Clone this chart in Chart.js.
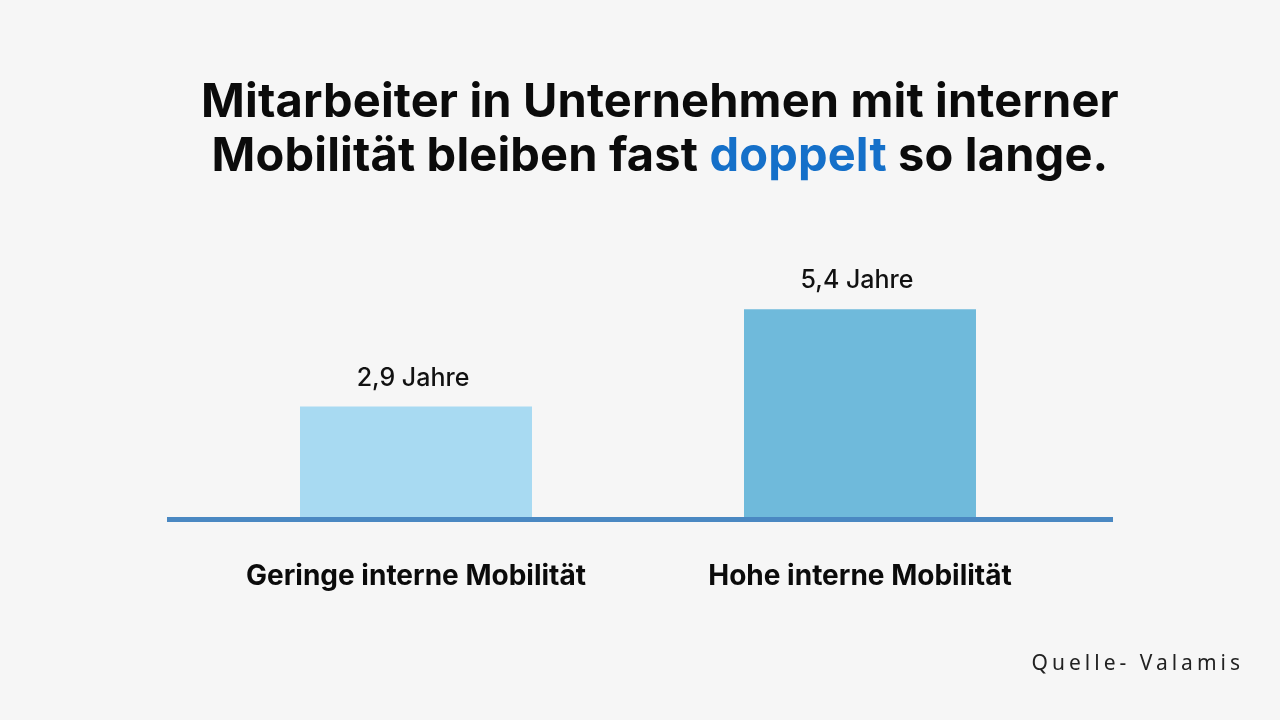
<!DOCTYPE html>
<html>
<head>
<meta charset="utf-8">
<script src="https://cdn.jsdelivr.net/npm/chart.js@4.4.1/dist/chart.umd.min.js"></script>
<style>
  html, body { margin: 0; padding: 0; background: #f6f6f6; }
  #wrap { position: relative; width: 1280px; height: 720px; overflow: hidden; }
  #title {
    position: absolute; left: 110px; width: 1100px; top: 73px;
    text-align: center; font-family: Inter, "Liberation Sans", sans-serif;
    font-weight: 700; font-size: 47px; line-height: 53.5px; color: #0b0b0b;
    letter-spacing: 0.15px;
  }
  #title .hl { color: #1570c9; }
  #source {
    position: absolute; right: 36px; top: 648px;
    font-family: "Noto Sans", Inter, sans-serif; font-size: 21px;
    letter-spacing: 4px; color: #222;
  }
  canvas { position: absolute; left: 0; top: 0; }
</style>
</head>
<body>
<div id="wrap">
  <canvas id="chart" width="1280" height="720"></canvas>
  <div id="title">Mitarbeiter in Unternehmen mit interner<br>Mobilität bleiben fast <span class="hl">doppelt</span> so lange.</div>
  <div id="source">Quelle- Valamis</div>
</div>
<script>
/* -----------------------------------------------------------
   DATA
----------------------------------------------------------- */

const categories = ["Geringe interne Mobilität", "Hohe interne Mobilität"];
const years = [2.9, 5.4];
const valueLabels = ["2,9 Jahre", "5,4 Jahre"];
const barColors = ["#a8daf2", "#6fbadb"];

/* Baseline plugin: the blue floor line, a bit wider than the plot */
const baseline = {
    id: "baseline",
    afterDatasetsDraw: (chart) => {
        const ctx = chart.ctx;
        const area = chart.chartArea;
        const y = chart.scales.y.getPixelForValue(0);
        ctx.save();
        ctx.strokeStyle = "#4a88c2";
        ctx.lineWidth = 5;
        ctx.beginPath();
        ctx.moveTo(area.left - 27, y);
        ctx.lineTo(area.right + 31, y);
        ctx.stroke();
        ctx.restore();
    }
};

/* Value labels above each bar */
const barValues = {
    id: "barValues",
    afterDatasetsDraw: (chart) => {
        const ctx = chart.ctx;
        const meta = chart.getDatasetMeta(0);
        ctx.save();
        ctx.font = "500 25px Inter, sans-serif";
        ctx.fillStyle = "#111";
        ctx.textAlign = "center";
        ctx.textBaseline = "alphabetic";
        meta.data.forEach((bar, i) => {
            ctx.fillText(valueLabels[i], bar.x - 3, bar.y - 21);
        });
        ctx.restore();
    }
};

const ctx = document.getElementById("chart").getContext("2d");

new Chart(ctx, {
    type: "bar",
    data: {
        labels: categories,
        datasets: [{
            data: years,
            backgroundColor: barColors,
            borderWidth: 0,
            barPercentage: 1,
            categoryPercentage: 0.5225
        }]
    },
    options: {
        responsive: false,
        animation: false,
        layout: { padding: { left: 194, right: 198, top: 286, bottom: 87 } },
        plugins: {
            legend: { display: false },
            tooltip: { enabled: false }
        },
        scales: {
            x: {
                grid: { display: false, drawTicks: false },
                border: { display: false },
                ticks: {
                    padding: 40,
                    color: "#0b0b0b",
                    font: { family: "Inter, sans-serif", size: 28, weight: "700" }
                }
            },
            y: {
                display: false,
                min: 0,
                max: 6
            }
        }
    },
    plugins: [baseline, barValues]
});
</script>
</body>
</html>
